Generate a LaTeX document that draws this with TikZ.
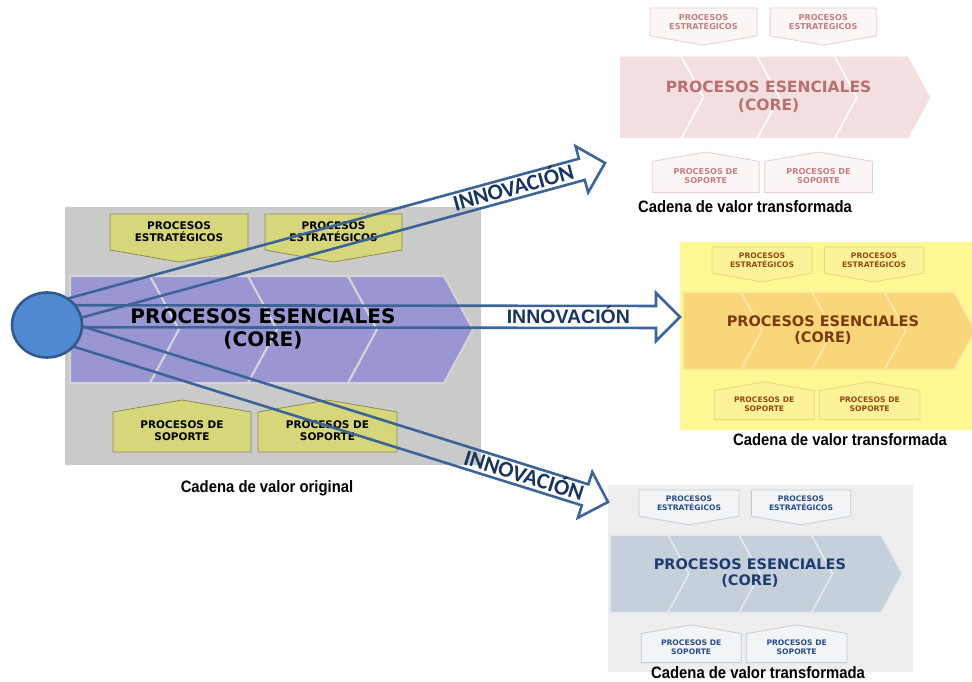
\documentclass[tikz,border=0pt]{standalone}
\usepackage{fontspec}
\usetikzlibrary{calc,shapes.geometric}
\newfontfamily\chainfont{DejaVu Sans}
\newfontfamily\labelfont{Liberation Sans}
\newfontfamily\slantfont{Carlito}
\newfontfamily\capfont[FakeStretch=0.9]{Liberation Sans}
\pgfdeclarelayer{front}
\pgfsetlayers{main,front}

% original chain
\definecolor{origbg}{RGB}{202,202,202}
\definecolor{origseg}{RGB}{154,150,212}
\definecolor{origtab}{RGB}{214,214,122}
\definecolor{origtabline}{RGB}{140,140,82}
% rose chain
\definecolor{roseseg}{RGB}{243,223,223}
\definecolor{rosetab}{RGB}{253,246,246}
\definecolor{rosetabline}{RGB}{232,205,205}
\definecolor{rosetext}{RGB}{184,112,112}
\definecolor{rosetabtext}{RGB}{196,126,126}
% yellow chain
\definecolor{sunbg}{RGB}{253,247,148}
\definecolor{sunseg}{RGB}{250,214,122}
\definecolor{sunsep}{RGB}{252,234,165}
\definecolor{suntab}{RGB}{252,242,152}
\definecolor{suntabline}{RGB}{238,212,120}
\definecolor{suntext}{RGB}{122,58,14}
\definecolor{suntabtext}{RGB}{150,70,20}
% steel chain
\definecolor{steelbg}{RGB}{238,238,238}
\definecolor{steelseg}{RGB}{198,208,221}
\definecolor{steelsep}{RGB}{228,232,239}
\definecolor{steeltab}{RGB}{243,244,246}
\definecolor{steeltabline}{RGB}{196,203,213}
\definecolor{steeltext}{RGB}{30,60,112}
\definecolor{steeltabtext}{RGB}{42,76,136}
% arrows and hub
\definecolor{arrowblue}{RGB}{60,100,150}
\definecolor{labelnavy}{RGB}{26,52,96}
\definecolor{hubfill}{RGB}{80,136,210}
\definecolor{hubline}{RGB}{50,90,140}

\tikzset{
  coretext/.style={align=center, inner sep=0pt,
    font=\chainfont\bfseries\fontsize{20}{23}\selectfont},
  tabtext/.style={align=center, inner sep=0pt,
    font=\chainfont\bfseries\fontsize{10.5}{12}\selectfont},
  caption/.style={inner sep=0pt, font=\capfont\bfseries\fontsize{16.5}{18}\selectfont},
  innov/.style={draw=arrowblue, line width=2.6pt, line join=miter},
  flatlabel/.style={inner sep=0pt, text=labelnavy, text height=14pt, text depth=0pt,
    font=\labelfont\bfseries\fontsize{19.5}{20}\selectfont},
  slopelabel/.style={inner sep=0pt, text=labelnavy, text height=14.5pt, text depth=0pt,
    sloped, font=\slantfont\bfseries\fontsize{22.5}{23}\selectfont},
  hub/.style={ellipse, draw=hubline, fill=hubfill, line width=2.6pt,
    minimum width=70pt, minimum height=65pt, inner sep=0pt}
}

% one value chain in local units: chevron row from (0,0) to (403,107)
\newcommand\valuechain[1]{%
  \path[segment] (0,0) -- (80,0) -- (109,53.5) -- (80,107) -- (0,107) -- cycle;
  \foreach \a/\b in {80/178,178/278,278/374}
    \path[segment] (\a,0) -- (\b,0) -- ({\b+29},53.5) -- (\b,107) -- (\a,107)
      -- ({\a+29},53.5) -- cycle;
  \path[tab] (40,-62) -- (178,-62) -- (178,-26) -- (109,-14) -- (40,-26) -- cycle;
  \path[tab] (195,-62) -- (332,-62) -- (332,-26) -- (263.5,-14) -- (195,-26) -- cycle;
  \path[tab] (43,176) -- (181,176) -- (181,136) -- (112,124) -- (43,136) -- cycle;
  \path[tab] (188,176) -- (327,176) -- (327,136) -- (257.5,124) -- (188,136) -- cycle;
  \node[coretext] (#1-core) at (193,52.5) {PROCESOS ESENCIALES\\(CORE)};
  \node[tabtext] (#1-st1) at (109,-44) {PROCESOS\\ESTRATÉGICOS};
  \node[tabtext] (#1-st2) at (263.5,-44) {PROCESOS\\ESTRATÉGICOS};
  \node[tabtext] (#1-sp1) at (112,155) {PROCESOS DE\\SOPORTE};
  \node[tabtext] (#1-sp2) at (257.5,155) {PROCESOS DE\\SOPORTE};
}

% block arrow from #2 to tip #3, named #1
\newcommand\blockarrow[3]{%
  \coordinate (#1-s) at ($(#2)!-12pt!(#3)$);
  \coordinate (#1-h) at ($(#3)!24pt!(#2)$);
  \draw[innov] ($(#1-s)!11pt!90:(#3)$) -- ($(#1-h)!11pt!90:(#3)$)
    -- ($(#1-h)!24pt!90:(#3)$) -- (#3) -- ($(#1-h)!24pt!-90:(#3)$)
    -- ($(#1-h)!11pt!-90:(#3)$) -- ($(#1-s)!11pt!-90:(#3)$) -- cycle;
}

\begin{document}
\begin{tikzpicture}[x=1pt, y=-1pt]
\useasboundingbox (0,0) rectangle (972,682);

% backgrounds
\fill[origbg] (65,207) rectangle (481,465);
\fill[sunbg] (680,242) rectangle (975,430);
\fill[steelbg] (608,485) rectangle (913,672);

% original chain
\begin{scope}[shift={(70,276)},
  segment/.style={fill=origseg, draw=origbg!80!white, line width=2pt},
  tab/.style={fill=origtab, draw=origtabline, line width=0.8pt}]
  \valuechain{orig}
\end{scope}

% transformed chain, rose
\begin{scope}[shift={(619,56)}, scale=0.775, transform shape,
  segment/.style={fill=roseseg, draw=white, line width=1.5pt},
  tab/.style={fill=rosetab, draw=rosetabline, line width=0.8pt},
  coretext/.append style={text=rosetext},
  tabtext/.append style={text=rosetabtext}]
  \valuechain{rose}
\end{scope}

% transformed chain, yellow
\begin{scope}[shift={(683,292)}, scale=0.725, transform shape,
  segment/.style={fill=sunseg, draw=sunsep, line width=1.5pt},
  tab/.style={fill=suntab, draw=suntabline, line width=0.8pt},
  coretext/.append style={text=suntext},
  tabtext/.append style={text=suntabtext}]
  \valuechain{sun}
\end{scope}

% transformed chain, steel
\begin{scope}[shift={(610,535)}, scale=0.725, transform shape,
  segment/.style={fill=steelseg, draw=steelsep, line width=1.5pt},
  tab/.style={fill=steeltab, draw=steeltabline, line width=0.8pt},
  coretext/.append style={text=steeltext},
  tabtext/.append style={text=steeltabtext}]
  \valuechain{steel}
\end{scope}

% captions
\node[caption] (capO) at (267,488) {Cadena de valor original};
\node[caption] (capR) at (745,207) {Cadena de valor transformada};
\node[caption] (capS) at (840,440) {Cadena de valor transformada};
\node[caption] (capB) at (758,673) {Cadena de valor transformada};

% hub in front of the arrow tails
\begin{pgfonlayer}{front}
  \node[hub] (hub) at (47,325) {};
\end{pgfonlayer}

% innovation arrows
\coordinate (tipR) at (605,163);
\coordinate (tipS) at (680,317);
\coordinate (tipB) at (608,502);
\blockarrow{upA}{hub.30}{tipR}
\blockarrow{midA}{hub.14}{tipS}
\blockarrow{lowA}{hub.-20}{tipB}

\path (upA-s) -- (tipR) node[slopelabel, pos=0.83] (lblR) {INNOVACIÓN};
\path (midA-s) -- (tipS) node[flatlabel, pos=0.817] (lblS) {INNOVACIÓN};
\path (lowA-s) -- (tipB) node[slopelabel, pos=0.844] (lblB) {INNOVACIÓN};
\end{tikzpicture}
\end{document}
